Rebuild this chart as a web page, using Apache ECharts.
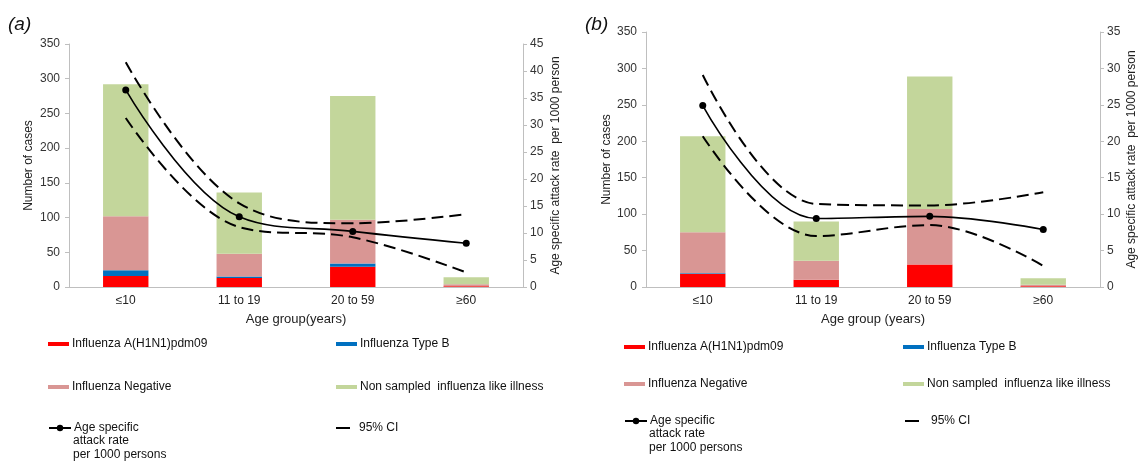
<!DOCTYPE html>
<html>
<head>
<meta charset="utf-8">
<script src="https://cdn.jsdelivr.net/npm/echarts@6/dist/echarts.min.js"></script>
<style>
html,body{margin:0;padding:0;background:#fff;}
#chart{width:1139px;height:462px;}
</style>
</head>
<body>
<div id="chart"></div>
<script>
// ---- data ----
const categories = ['≤10', '11 to 19', '20 to 59', '≥60'];
const leftTicks = [0, 50, 100, 150, 200, 250, 300, 350];

// panel (a)
const aH1N1 = [16, 13, 29, 1];
const aTypeB = [8, 2, 5, 0];
const aNegative = [78, 33, 63, 3];
const aNonSampled = [190, 88, 178, 10];
const aRate = [36.5, 13.0, 10.3, 8.1];
const aUpperCI = [41.6, 15.5, 11.8, 13.5];
const aLowerCI = [31.3, 11.1, 9.2, 2.7];

// panel (b)
const bH1N1 = [18, 10, 31, 1];
const bTypeB = [1, 0, 0, 0];
const bNegative = [56, 26, 76, 2];
const bNonSampled = [132, 54, 182, 9];
const bRate = [24.9, 9.4, 9.7, 7.9];
const bUpperCI = [29.1, 11.4, 11.2, 13.0];
const bLowerCI = [20.7, 7.0, 8.5, 2.9];

const N_H1N1 = 'Influenza A(H1N1)pdm09';
const N_B = 'Influenza Type B';
const N_NEG = 'Influenza Negative';
const N_NS = 'Non sampled  influenza like illness';
const N_RATE = 'Age specific attack rate per 1000 persons';
const N_CI = '95% CI';

const FONT = '"Liberation Sans", Arial, sans-serif';
const AX = '#bfbfbf';
const TXT = '#333';

function xAxisFor(gi, name) {
  return {
    type: 'category', gridIndex: gi, data: categories,
    axisLine: {lineStyle: {color: AX}},
    axisTick: {lineStyle: {color: AX}, length: 5},
    axisLabel: {color: '#222', fontSize: 12, fontFamily: FONT, margin: 8},
    name: name, nameLocation: 'middle', nameGap: 26,
    nameTextStyle: {color: '#222', fontSize: 13, fontFamily: FONT}
  };
}
function yLeft(gi, gap) {
  return {
    type: 'value', gridIndex: gi, min: 0, max: 350, interval: 50, position: 'left',
    axisLine: {show: true, lineStyle: {color: AX}},
    axisTick: {show: true, length: 4, lineStyle: {color: AX}},
    splitLine: {show: false},
    axisLabel: {color: TXT, fontSize: 12, fontFamily: FONT, margin: 9},
    name: 'Number of cases', nameLocation: 'middle', nameGap: gap, nameRotate: 90,
    nameTextStyle: {color: '#222', fontSize: 12, fontFamily: FONT}
  };
}
function yRight(gi, max, gap) {
  return {
    type: 'value', gridIndex: gi, min: 0, max: max, interval: 5, position: 'right',
    axisLine: {show: true, lineStyle: {color: AX}},
    axisTick: {show: true, length: 4, lineStyle: {color: AX}},
    splitLine: {show: false},
    axisLabel: {color: TXT, fontSize: 12, fontFamily: FONT, margin: 7},
    name: 'Age specific attack rate  per 1000 person', nameLocation: 'middle', nameGap: gap, nameRotate: 90,
    nameTextStyle: {color: '#222', fontSize: 12, fontFamily: FONT}
  };
}
function bar(name, color, data, xi, yi, stack) {
  return {name: name, type: 'bar', stack: stack, xAxisIndex: xi, yAxisIndex: yi, data: data,
    barWidth: '40%', itemStyle: {color: color}, emphasis: {disabled: true}};
}
function line(name, data, xi, yi, dashed) {
  return {
    name: name, type: 'line', xAxisIndex: xi, yAxisIndex: yi, data: data, smooth: 0.38, z: 5,
    symbol: dashed ? 'none' : 'circle', symbolSize: 7, showSymbol: !dashed,
    itemStyle: {color: '#000'},
    lineStyle: {color: '#000', width: dashed ? 2 : 1.6, type: dashed ? [12, 6] : 'solid'},
    emphasis: {disabled: true}
  };
}
function legendItem(name, left, top, extra) {
  return Object.assign({
    data: [{name: name, icon: 'rect'}], left: left, top: top, orient: 'horizontal', selectedMode: false,
    padding: 0, itemWidth: 21, itemHeight: 4, itemGap: 0,
    textStyle: {color: '#111', fontSize: 12, fontFamily: FONT, padding: [0, 0, 0, -2]}
  }, extra || {});
}
function rateLegend(left, top) {
  return legendItem(N_RATE, left, top, {
    data: [N_RATE], itemWidth: 22, itemHeight: 8,
    formatter: function (n) { return n === N_RATE ? 'Age specific' : n; }
  });
}
function ciLegend(left, top, textPad) {
  return legendItem(N_CI, left, top, {
    data: [{name: N_CI, icon: 'rect', itemStyle: {color: '#000'}}],
    itemWidth: 14, itemHeight: 2,
    textStyle: {color: '#111', fontSize: 12, fontFamily: FONT, padding: [0, 0, 0, textPad]}
  });
}

const colors = {h1: '#ff0000', b: '#0070c0', neg: '#d99694', ns: '#c3d69b'};

const option = {
  animation: false,
  backgroundColor: '#fff',
  grid: [
    {left: 69, right: 616, top: 44, bottom: 175},
    {left: 646, right: 39, top: 32, bottom: 175}
  ],
  xAxis: [xAxisFor(0, 'Age group(years)'), xAxisFor(1, 'Age group (years)')],
  yAxis: [yLeft(0, 34), yRight(0, 45, 27), yLeft(1, 32), yRight(1, 35, 26)],
  legend: [
    legendItem(N_H1N1, 48, 338),
    legendItem(N_B, 336, 338),
    legendItem(N_NEG, 48, 381),
    legendItem(N_NS, 336, 381),
    rateLegend(48, 422),
    ciLegend(336, 422, 4),
    legendItem(N_H1N1, 624, 341),
    legendItem(N_B, 903, 341),
    legendItem(N_NEG, 624, 378),
    legendItem(N_NS, 903, 378),
    rateLegend(624, 415),
    ciLegend(905, 415, 7)
  ],
  graphic: [
    {type: 'text', left: 8, top: 15, style: {text: '(a)', font: 'italic 19px ' + FONT, fill: '#111'}},
    {type: 'text', left: 585, top: 15, style: {text: '(b)', font: 'italic 19px ' + FONT, fill: '#111'}},
    {type: 'text', left: 73, top: 434, style: {text: 'attack rate\nper 1000 persons', font: '12px ' + FONT, fill: '#111', lineHeight: 13.5}},
    {type: 'text', left: 649, top: 427, style: {text: 'attack rate\nper 1000 persons', font: '12px ' + FONT, fill: '#111', lineHeight: 14}}
  ],
  series: [
    bar(N_H1N1, colors.h1, aH1N1, 0, 0, 'a'),
    bar(N_B, colors.b, aTypeB, 0, 0, 'a'),
    bar(N_NEG, colors.neg, aNegative, 0, 0, 'a'),
    bar(N_NS, colors.ns, aNonSampled, 0, 0, 'a'),
    line(N_CI, aUpperCI, 0, 1, true),
    line(N_CI, aLowerCI, 0, 1, true),
    line(N_RATE, aRate, 0, 1, false),
    bar(N_H1N1, colors.h1, bH1N1, 1, 2, 'b'),
    bar(N_B, colors.b, bTypeB, 1, 2, 'b'),
    bar(N_NEG, colors.neg, bNegative, 1, 2, 'b'),
    bar(N_NS, colors.ns, bNonSampled, 1, 2, 'b'),
    line(N_CI, bUpperCI, 1, 3, true),
    line(N_CI, bLowerCI, 1, 3, true),
    line(N_RATE, bRate, 1, 3, false)
  ]
};
const chart = echarts.init(document.getElementById('chart'), null, {renderer: 'canvas'});
chart.setOption(option);
</script>
</body>
</html>
